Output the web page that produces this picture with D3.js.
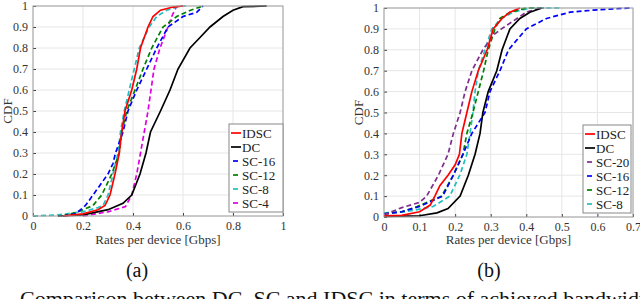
<!DOCTYPE html>
<html>
<head>
<meta charset="utf-8">
<script src="https://cdn.jsdelivr.net/npm/d3@7"></script>
<style>
  body { margin: 0; background: #fff; }
  svg { display: block; }
  svg text { font-family: "Liberation Serif", "DejaVu Serif", serif; }
</style>
</head>
<body>
<svg id="chart" width="640" height="299"></svg>
<script>
// ---- data: [rate in Gbps, CDF] ----
// panel (a)
var a_IDSC = [[0.12,0],[0.2,0.01],[0.26,0.03],[0.288,0.05],[0.308,0.1],[0.328,0.2],[0.345,0.3],[0.355,0.4],[0.368,0.5],[0.395,0.6],[0.415,0.7],[0.43,0.8],[0.46,0.9],[0.48,0.95],[0.51,0.98],[0.56,0.995],[0.6,1]];
var a_DC = [[0.1,0],[0.2,0.005],[0.3,0.03],[0.36,0.06],[0.395,0.1],[0.428,0.2],[0.452,0.3],[0.47,0.4],[0.51,0.5],[0.548,0.6],[0.58,0.7],[0.628,0.8],[0.668,0.85],[0.708,0.9],[0.76,0.95],[0.8,0.98],[0.84,0.997],[0.935,1]];
var a_SC16 = [[0.12,0],[0.17,0.01],[0.21,0.05],[0.24,0.1],[0.27,0.15],[0.3,0.2],[0.32,0.25],[0.33,0.3],[0.36,0.4],[0.38,0.5],[0.415,0.6],[0.455,0.7],[0.495,0.8],[0.54,0.9],[0.6,0.95],[0.655,0.97],[0.68,1]];
var a_SC12 = [[0.12,0],[0.18,0.02],[0.24,0.05],[0.275,0.1],[0.315,0.2],[0.345,0.3],[0.355,0.4],[0.375,0.5],[0.408,0.6],[0.44,0.7],[0.475,0.8],[0.52,0.9],[0.575,0.95],[0.63,0.98],[0.68,1]];
var a_SC8 = [[0,0],[0.1,0.005],[0.2,0.02],[0.26,0.04],[0.28,0.05],[0.3,0.1],[0.32,0.2],[0.34,0.3],[0.35,0.4],[0.365,0.5],[0.385,0.6],[0.405,0.7],[0.425,0.8],[0.465,0.9],[0.495,0.95],[0.535,0.98],[0.59,1],[0.62,1]];
var a_SC4 = [[0.2,0],[0.3,0.02],[0.37,0.045],[0.395,0.1],[0.415,0.2],[0.43,0.3],[0.445,0.4],[0.46,0.5],[0.472,0.6],[0.484,0.7],[0.508,0.8],[0.54,0.9],[0.555,0.95],[0.575,1]];

// panel (b)
var b_IDSC = [[0,0.005],[0.05,0.008],[0.1,0.025],[0.13,0.057],[0.143,0.1],[0.157,0.15],[0.18,0.2],[0.2,0.25],[0.212,0.3],[0.219,0.4],[0.233,0.5],[0.247,0.6],[0.265,0.7],[0.29,0.8],[0.307,0.9],[0.332,0.95],[0.354,0.98],[0.382,1]];
var b_DC = [[0,0.003],[0.1,0.006],[0.149,0.02],[0.18,0.04],[0.214,0.1],[0.237,0.2],[0.256,0.3],[0.27,0.4],[0.278,0.5],[0.293,0.6],[0.317,0.7],[0.332,0.8],[0.354,0.9],[0.382,0.95],[0.41,0.98],[0.444,1]];
var b_SC20 = [[0,0.01],[0.05,0.045],[0.1,0.07],[0.12,0.1],[0.153,0.2],[0.18,0.3],[0.195,0.4],[0.214,0.5],[0.228,0.6],[0.247,0.7],[0.278,0.8],[0.307,0.87],[0.33,0.9],[0.374,0.95],[0.4,0.98],[0.44,1],[0.45,1]];
var b_SC16 = [[0,0.015],[0.05,0.025],[0.1,0.05],[0.165,0.1],[0.195,0.2],[0.222,0.3],[0.247,0.4],[0.284,0.5],[0.298,0.6],[0.326,0.7],[0.35,0.8],[0.4,0.9],[0.457,0.95],[0.523,0.98],[0.59,0.99],[0.69,1]];
var b_SC12 = [[0,0.015],[0.05,0.025],[0.093,0.05],[0.162,0.1],[0.195,0.2],[0.222,0.3],[0.233,0.4],[0.25,0.5],[0.265,0.6],[0.28,0.7],[0.293,0.8],[0.312,0.9],[0.326,0.95],[0.354,0.98],[0.4,1],[0.44,1]];
var b_SC8 = [[0,0.02],[0.06,0.025],[0.138,0.05],[0.185,0.1],[0.213,0.2],[0.233,0.3],[0.242,0.4],[0.25,0.5],[0.256,0.6],[0.265,0.7],[0.284,0.8],[0.303,0.9],[0.33,0.95],[0.363,0.98],[0.41,1],[0.5,1]];

var yTicks = [0,0.1,0.2,0.3,0.4,0.5,0.6,0.7,0.8,0.9,1];
var xTicksA = [0,0.2,0.4,0.6,0.8,1];
var xTicksB = [0,0.1,0.2,0.3,0.4,0.5,0.6,0.7];

var seriesA = [
  {name:"IDSC", pts:a_IDSC, color:"#ff0000", dash:null},
  {name:"DC", pts:a_DC, color:"#000000", dash:null},
  {name:"SC-16", pts:a_SC16, color:"#0000ff", dash:"5,3"},
  {name:"SC-12", pts:a_SC12, color:"#008000", dash:"5,3"},
  {name:"SC-8", pts:a_SC8, color:"#1fbfbf", dash:"5,3"},
  {name:"SC-4", pts:a_SC4, color:"#e000e0", dash:"5,3"}
];
var seriesB = [
  {name:"IDSC", pts:b_IDSC, color:"#ff0000", dash:null},
  {name:"DC", pts:b_DC, color:"#000000", dash:null},
  {name:"SC-20", pts:b_SC20, color:"#7e2f8e", dash:"5,3"},
  {name:"SC-16", pts:b_SC16, color:"#0000ff", dash:"5,3"},
  {name:"SC-12", pts:b_SC12, color:"#008000", dash:"5,3"},
  {name:"SC-8", pts:b_SC8, color:"#1fbfbf", dash:"5,3"}
];

var serif = "Liberation Serif, DejaVu Serif, serif";
var svg = d3.select("#chart");

function panel(id, left, right, top, bottom, xmax, xTicks, series, legendBox, label, labelX) {
  var x = d3.scaleLinear().domain([0, xmax]).range([left, right]);
  var y = d3.scaleLinear().domain([0, 1]).range([bottom, top]);
  var g = svg.append("g");

  svg.append("clipPath").attr("id", "clip" + id)
    .append("rect").attr("x", left).attr("y", top - 2).attr("width", right - left).attr("height", bottom - top + 3);

  // grid
  g.selectAll(".gx").data(xTicks).enter().append("line")
    .attr("x1", d => x(d)).attr("x2", d => x(d)).attr("y1", top).attr("y2", bottom)
    .attr("stroke", "#e6e6e6").attr("stroke-width", 1);
  g.selectAll(".gy").data(yTicks).enter().append("line")
    .attr("y1", d => y(d)).attr("y2", d => y(d)).attr("x1", left).attr("x2", right)
    .attr("stroke", "#e6e6e6").attr("stroke-width", 1);

  // axes
  var xAxis = d3.axisBottom(x).tickValues(xTicks).tickSize(3).tickFormat(d3.format("~g"));
  var yAxis = d3.axisLeft(y).tickValues(yTicks).tickSize(3).tickFormat(d3.format("~g"));
  var ax = g.append("g").attr("transform", "translate(0," + bottom + ")").call(xAxis);
  var ay = g.append("g").attr("transform", "translate(" + left + ",0)").call(yAxis);
  [ax, ay].forEach(function(a) {
    a.attr("font-family", serif).attr("font-size", 12);
    a.select(".domain").remove();
    a.selectAll(".tick line").attr("stroke", "#444");
    a.selectAll("text").attr("fill", "#333");
  });
  ax.selectAll(".tick line").attr("transform", "translate(0,-3)");
  ay.selectAll(".tick line").attr("transform", "translate(3,0)");
  ax.selectAll("text").attr("y", 5).attr("dy", "0.71em");
  ay.selectAll("text").attr("x", -5);

  // curves
  var line = d3.line().x(d => x(d[0])).y(d => y(d[1]));
  g.append("g").attr("clip-path", "url(#clip" + id + ")")
    .selectAll("path").data(series.slice().reverse()).enter().append("path")
    .attr("d", d => line(d.pts))
    .attr("fill", "none")
    .attr("stroke", d => d.color)
    .attr("stroke-width", 1.7)
    .attr("stroke-dasharray", d => d.dash);

  // frame
  g.append("rect").attr("x", left).attr("y", top).attr("width", right - left).attr("height", bottom - top)
    .attr("fill", "none").attr("stroke", "#a0a0a0").attr("stroke-width", 1);

  // axis titles
  g.append("text").attr("x", (left + right) / 2).attr("y", 244).attr("text-anchor", "middle")
    .attr("font-family", serif).attr("font-size", 13).attr("fill", "#333").text("Rates per device [Gbps]");
  g.append("text").attr("transform", "translate(" + (left - 21) + "," + ((top + bottom) / 2) + ") rotate(-90)")
    .attr("text-anchor", "middle").attr("font-family", serif).attr("font-size", 13).attr("fill", "#333").text("CDF");

  // legend
  var lg = g.append("g");
  lg.append("rect").attr("x", legendBox[0]).attr("y", legendBox[1]).attr("width", legendBox[2]).attr("height", legendBox[3])
    .attr("fill", "#fff").attr("stroke", "#888").attr("stroke-width", 1);
  var items = lg.selectAll(".item").data(series).enter().append("g")
    .attr("transform", (d, i) => "translate(" + legendBox[0] + "," + (legendBox[1] + 9 + i * 14) + ")");
  items.append("line").attr("x1", d => d.dash ? 4 : 2).attr("x2", d => d.dash ? 9 : 12).attr("y1", 0).attr("y2", 0)
    .attr("stroke", d => d.color).attr("stroke-width", 1.7);
  items.append("text").attr("x", 13).attr("y", 4.5).attr("font-family", serif).attr("font-size", 13)
    .attr("fill", "#222").text(d => d.name);

  svg.append("text").attr("x", labelX).attr("y", 277).attr("text-anchor", "middle")
    .attr("font-family", serif).attr("font-size", 20).attr("fill", "#111").text(label);
}

panel("a", 33, 283, 6, 216, 1, xTicksA, seriesA, [229, 124, 54, 88], "(a)", 137);
panel("b", 384, 633, 8, 217, 0.7, xTicksB, seriesB, [583, 125, 48, 88], "(b)", 489);

svg.append("text").attr("x", 20).attr("y", 306).attr("font-family", serif).attr("font-size", 22).attr("fill", "#111")
  .text("Comparison between DC, SC and IDSC in terms of achieved bandwidth");
</script>
</body>
</html>
